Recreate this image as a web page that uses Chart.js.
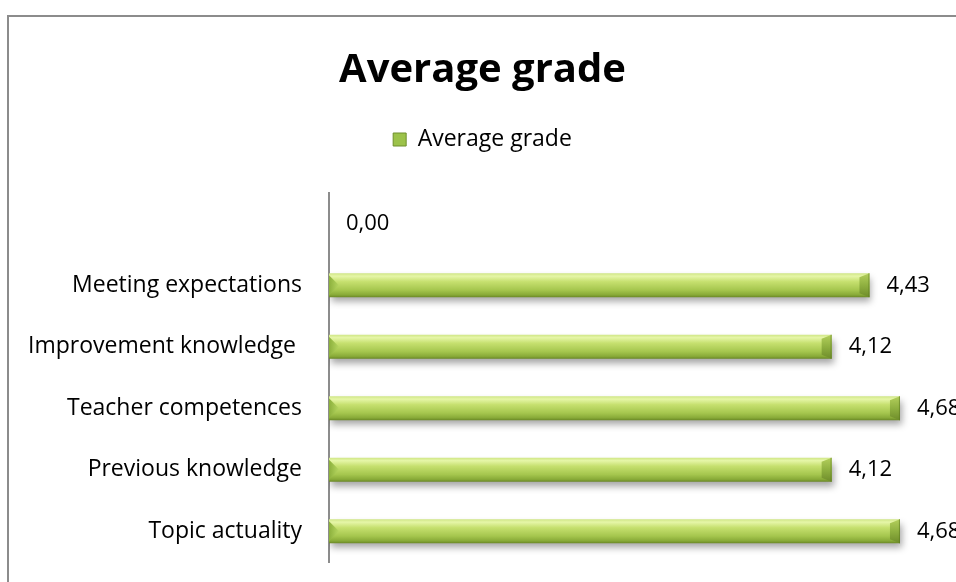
<!DOCTYPE html>
<html>
<head>
<meta charset="utf-8">
<script src="https://cdn.jsdelivr.net/npm/chart.js@4.4.1/dist/chart.umd.min.js"></script>
<style>
  html, body { margin: 0; padding: 0; background: #fff; overflow: hidden; }
  #wrap { position: relative; width: 956px; height: 582px; }
  #frame { position: absolute; left: 7px; top: 15px; width: 1000px; height: 600px;
           border-left: 2px solid #8c8c8c; border-top: 2px solid #8c8c8c; box-sizing: border-box; }
  canvas { position: absolute; left: 0; top: 0; }
</style>
</head>
<body>
<div id="wrap">
  <div id="frame"></div>
  <canvas id="c" width="956" height="582"></canvas>
</div>
<script>
// ---- data ----
const chartTitle = 'Average grade';
const seriesName = 'Average grade';
const categories = ['', 'Meeting expectations', 'Improvement knowledge ', 'Teacher competences', 'Previous knowledge', 'Topic actuality'];
const averageGrade = [0.00, 4.43, 4.12, 4.68, 4.12, 4.68];
const xMin = 0;
const xMax = 5;

const FONT = "'Open Sans', 'Noto Sans', sans-serif";
const BAR_PCT = 0.39;
const PAD_LEFT = 26;

function fmt(v) { return v.toFixed(2).replace('.', ','); }

function barGradient(context) {
  const chart = context.chart;
  const y = chart.scales.y;
  if (!y || context.dataIndex === undefined) return '#a8c852';
  const center = y.getPixelForValue(context.dataIndex);
  const half = (y.height / categories.length) * BAR_PCT / 2;
  const g = chart.ctx.createLinearGradient(0, center - half, 0, center + half);
  g.addColorStop(0.00, '#cfe685');
  g.addColorStop(0.12, '#e6f6a8');
  g.addColorStop(0.35, '#c6e06f');
  g.addColorStop(0.70, '#a5c64e');
  g.addColorStop(0.90, '#88aa38');
  g.addColorStop(1.00, '#6a8826');
  return g;
}

const shadowPlugin = {
  id: 'barShadow',
  beforeDatasetsDraw(chart) {
    const ctx = chart.ctx;
    ctx.save();
    ctx.shadowColor = 'rgba(0,0,0,0.35)';
    ctx.shadowBlur = 7;
    ctx.shadowOffsetX = 2;
    ctx.shadowOffsetY = 5;
  },
  afterDatasetsDraw(chart) {
    const ctx = chart.ctx;
    ctx.restore();
    const meta = chart.getDatasetMeta(0);
    ctx.save();
    meta.data.forEach((bar, i) => {
      const v = averageGrade[i];
      const h = bar.height;
      const top = bar.y - h / 2, bot = bar.y + h / 2;
      if (bar.x - bar.base > 12) {
        const bv = 10;
        const g = ctx.createLinearGradient(0, top, 0, bot);
        g.addColorStop(0, '#b3cf5c');
        g.addColorStop(0.5, '#8fb040');
        g.addColorStop(1, '#6e8c2a');
        ctx.beginPath();
        ctx.moveTo(bar.x - bv, top + 4);
        ctx.lineTo(bar.x, top);
        ctx.lineTo(bar.x, bot);
        ctx.lineTo(bar.x - bv, bot - 4);
        ctx.closePath();
        ctx.fillStyle = g;
        ctx.fill();
        ctx.strokeStyle = 'rgba(90,120,30,0.6)';
        ctx.lineWidth = 1;
        ctx.beginPath();
        ctx.moveTo(bar.x - 0.5, top); ctx.lineTo(bar.x - 0.5, bot); ctx.stroke();
        const lg = ctx.createLinearGradient(bar.base, 0, bar.base + bv, 0);
        lg.addColorStop(0, '#8cb03c');
        lg.addColorStop(1, '#b6d661');
        ctx.beginPath();
        ctx.moveTo(bar.base, top + 2);
        ctx.lineTo(bar.base + bv, bar.y);
        ctx.lineTo(bar.base, bot - 2);
        ctx.closePath();
        ctx.fillStyle = lg;
        ctx.fill();
      }
      ctx.fillStyle = '#000';
      ctx.font = '22px ' + FONT;
      ctx.textAlign = 'left';
      ctx.textBaseline = 'middle';
      ctx.fillText(fmt(v), bar.x + 17, bar.y);
    });
    ctx.restore();
  }
};

new Chart(document.getElementById('c'), {
  type: 'bar',
  data: {
    labels: categories,
    datasets: [{
      label: seriesName,
      data: averageGrade,
      backgroundColor: barGradient,
      borderWidth: 0,
      categoryPercentage: 1,
      barPercentage: BAR_PCT
    }]
  },
  plugins: [shadowPlugin],
  options: {
    indexAxis: 'y',
    responsive: false,
    animation: false,
    layout: { padding: { left: PAD_LEFT, right: 17, top: 47, bottom: 20 } },
    plugins: {
      title: {
        display: true,
        text: chartTitle,
        color: '#000',
        font: { family: FONT, size: 40, weight: 'bold' },
        padding: { top: 0, bottom: 23 }
      },
      legend: {
        display: true,
        position: 'top',
        labels: {
          color: '#000',
          font: { family: FONT, size: 23 },
          boxWidth: 13,
          boxHeight: 13,
          padding: 10,
          generateLabels() {
            return [{
              text: seriesName,
              fillStyle: '#9cc24a',
              strokeStyle: '#6f8f2c',
              lineWidth: 1,
              hidden: false,
              datasetIndex: 0
            }];
          }
        }
      },
      tooltip: { enabled: false }
    },
    scales: {
      x: {
        display: true,
        position: 'top',
        min: xMin,
        max: xMax,
        ticks: { display: false },
        grid: { display: false, drawTicks: false },
        border: { display: false },
        afterFit(scale) { scale.height = 32; }
      },
      y: {
        afterFit(scale) {
          scale.width = 329 - PAD_LEFT;
          scale.paddingTop = 0;
          scale.paddingBottom = 0;
        },
        grid: { display: false, drawTicks: false },
        border: { display: true, color: '#8c8c8c', width: 2 },
        ticks: {
          color: '#000',
          font: { family: FONT, size: 23 },
          padding: 27
        }
      }
    }
  }
});
</script>
</body>
</html>
